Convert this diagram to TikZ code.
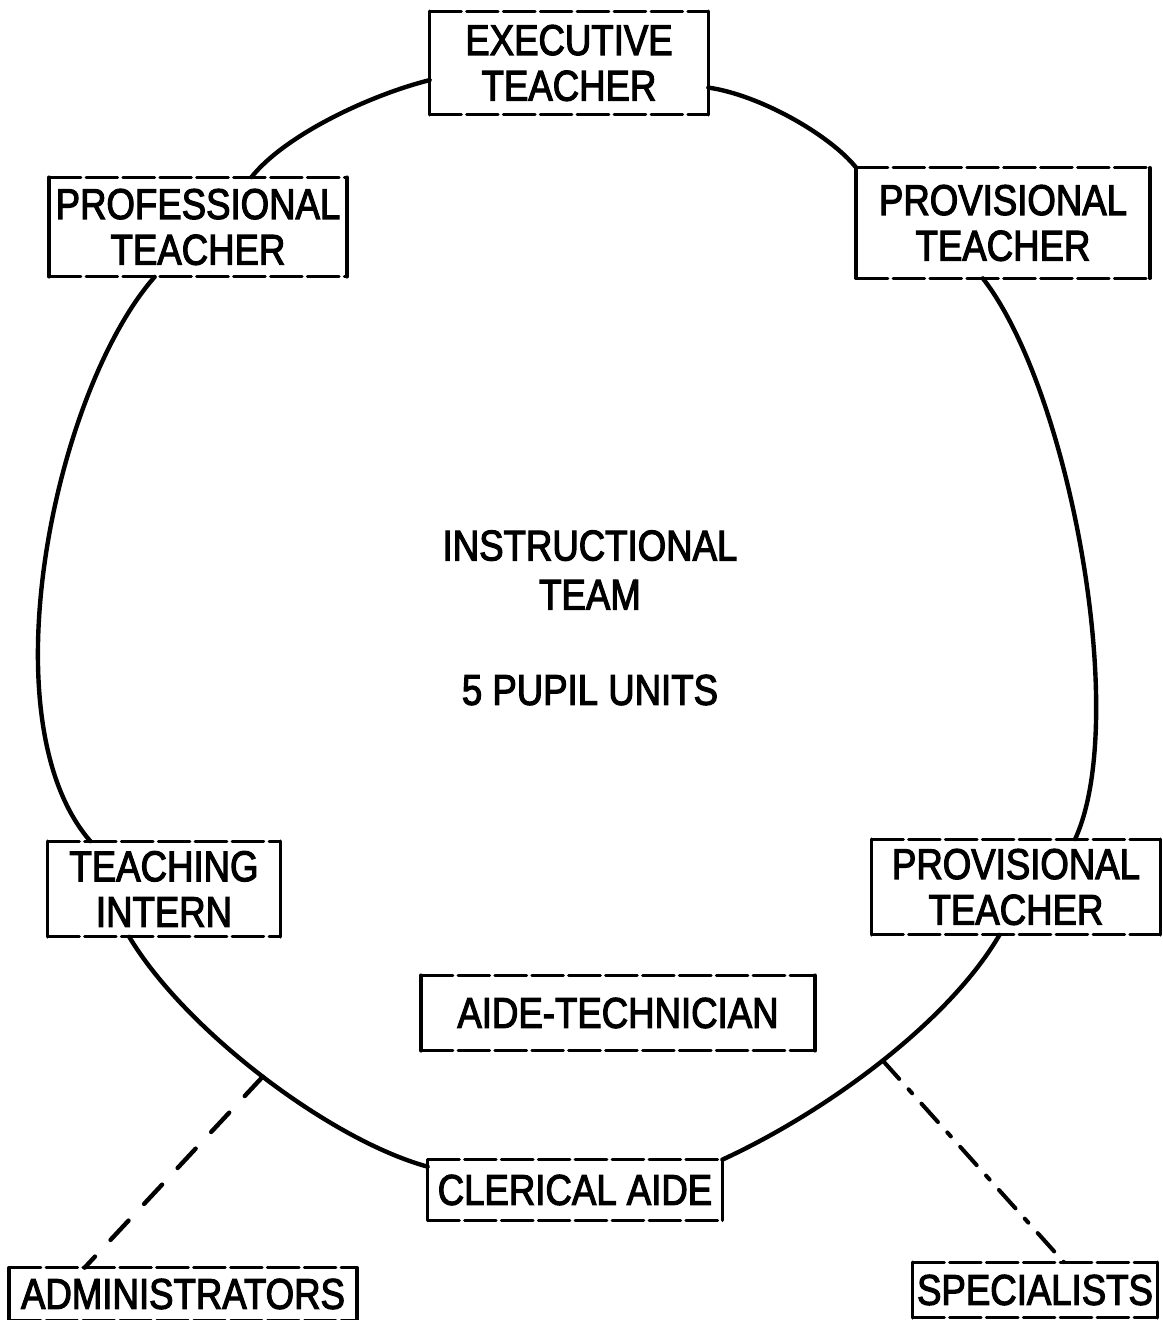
\documentclass[tikz,border=0pt]{standalone}
\usepackage{fontspec}
\setmainfont{Liberation Sans}[FakeStretch=0.85,FakeBold=2.6]
\begin{document}
\begin{tikzpicture}[x=0.02cm,y=-0.02cm,
  bx/.style 2 args={minimum width=#1*0.02cm, minimum height=#2*0.02cm, inner sep=0pt, align=center},
  lbl/.style={font=\fontsize{24.5}{26}\selectfont, align=center},
  hedge/.style={line width=1.7pt, dash pattern=on 18pt off 3pt, line cap=round},
  vedge/.style={line width=1.9pt, line cap=round},
  arc/.style={line width=2.5pt, line cap=round},
  admline/.style={line width=2.5pt, line cap=round, dash pattern=on 15pt off 13pt},
  specline/.style={line width=2.3pt, line cap=round, dash pattern=on 14pt off 8pt on 3pt off 8pt}]
\useasboundingbox (0,0) rectangle (1163,1320);

% boxes
\node[bx={278}{103}, lbl] (exec)  at (569,63)   {EXECUTIVE\\TEACHER};
\node[bx={297}{99},  lbl] (prof)  at (198,227)  {PROFESSIONAL\\TEACHER};
\node[bx={293}{110}, lbl] (prov1) at (1003,223) {PROVISIONAL\\TEACHER};
\node[bx={232}{95},  lbl] (intern) at (164,889) {TEACHING\\INTERN};
\node[bx={288}{95},  lbl] (prov2) at (1016,887) {PROVISIONAL\\TEACHER};
\node[bx={393}{75},  lbl] (aide)  at (618,1013) {AIDE-TECHNICIAN};
\node[bx={294}{60},  lbl] (cler)  at (575,1190) {CLERICAL AIDE};
\node[bx={347}{52},  lbl] (admin) at (183,1294) {ADMINISTRATORS};
\node[bx={244}{55},  lbl] (spec)  at (1035,1290) {SPECIALISTS};

\foreach \n in {exec,prof,prov1,intern,prov2,aide,cler,admin,spec}{
  \draw[hedge] (\n.north west) -- (\n.north east);
  \draw[hedge] (\n.south west) -- (\n.south east);
  \draw[vedge] (\n.north west) -- (\n.south west);
  \draw[vedge] (\n.north east) -- (\n.south east);
}

% centre text
\node[lbl, font=\fontsize{24.5}{28}\selectfont] (team) at (590,570) {INSTRUCTIONAL\\TEAM};
\node[lbl] (units) at (590,690) {5 PUPIL UNITS};

% circle of connectors
\draw[arc] (prof.43) .. controls (285,135) and (370,95) .. (exec.187);
\draw[arc] (exec.350) .. controls (760,95) and (830,135) .. (prov1.north west);
\draw[arc] (prof.229) .. controls (55,390) and (-15,720) .. (intern.147);
\draw[arc] (prov1.250) .. controls (1070,390) and (1130,720) .. (prov2.39);
\draw[arc] (intern.234) .. controls (185,1030) and (330,1140) .. coordinate[pos=0.5] (admj) (cler.171);
\draw[arc] (prov2.251) .. controls (950,1020) and (830,1110) .. coordinate[pos=0.5] (specj) (cler.north east);

% outside links
\draw[admline] (admj) -- (admin.165);
\draw[specline] (specj) -- (spec.44);
\end{tikzpicture}
\end{document}
